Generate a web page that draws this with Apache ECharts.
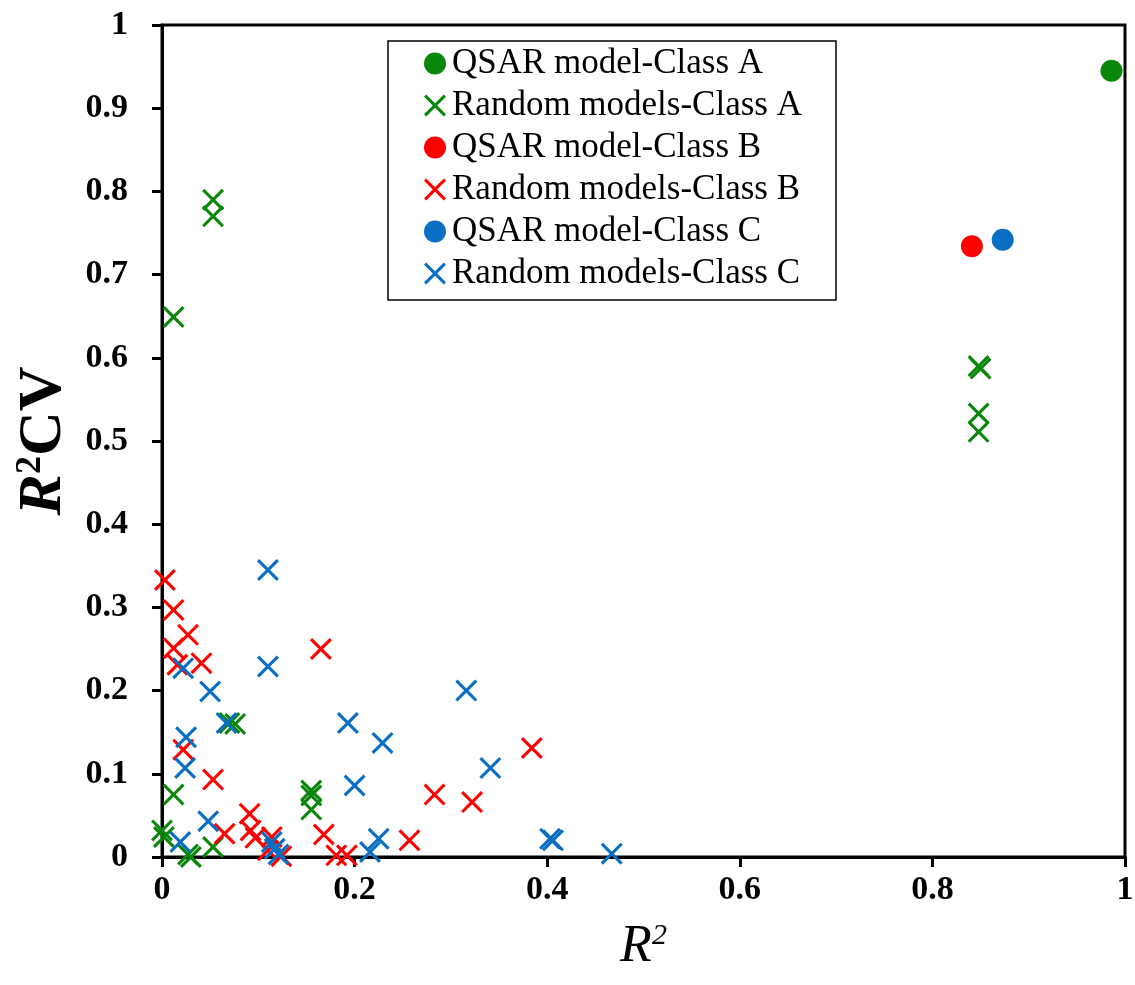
<!DOCTYPE html>
<html>
<head>
<meta charset="utf-8">
<script src="https://cdn.jsdelivr.net/npm/echarts@6/dist/echarts.min.js"></script>
<style>
  html, body { margin: 0; padding: 0; background: #fff; }
  #chart { width: 1135px; height: 985px; }
</style>
</head>
<body>
<div id="chart"></div>
<script>
// values: [R2, R2CV]
const qsarA = [[0.986, 0.945]]
const qsarB = [[0.841, 0.734]]
const qsarC = [[0.873, 0.742]]

const randomA = [
  [0.053, 0.790], [0.053, 0.770], [0.012, 0.649],
  [0.848, 0.590], [0.850, 0.587], [0.848, 0.533], [0.848, 0.511],
  [0.070, 0.161], [0.076, 0.160], [0.012, 0.075],
  [0.155, 0.080], [0.155, 0.074], [0.155, 0.057],
  [0.000, 0.032], [0.002, 0.024], [0.027, 0.003], [0.030, 0.000], [0.053, 0.012]
]

const randomB = [
  [0.003, 0.333], [0.012, 0.297], [0.027, 0.267], [0.012, 0.251], [0.016, 0.231],
  [0.041, 0.233], [0.165, 0.250], [0.022, 0.129], [0.053, 0.093], [0.384, 0.131],
  [0.283, 0.075], [0.322, 0.066], [0.257, 0.020], [0.168, 0.027], [0.181, 0.002],
  [0.192, 0.002], [0.091, 0.052], [0.065, 0.028], [0.092, 0.032], [0.097, 0.023],
  [0.114, 0.024], [0.124, 0.001], [0.110, 0.008]
]

const randomC = [
  [0.110, 0.345], [0.110, 0.229], [0.022, 0.227], [0.050, 0.199], [0.067, 0.161],
  [0.025, 0.144], [0.024, 0.107], [0.048, 0.043], [0.019, 0.018], [0.114, 0.018],
  [0.117, 0.010], [0.121, 0.003], [0.193, 0.161], [0.229, 0.137], [0.316, 0.200],
  [0.341, 0.107], [0.200, 0.086], [0.225, 0.022], [0.216, 0.006], [0.403, 0.022],
  [0.406, 0.020], [0.467, 0.004]
]

const names = [
  'QSAR model-Class A', 'Random models-Class A',
  'QSAR model-Class B', 'Random models-Class B',
  'QSAR model-Class C', 'Random models-Class C'
]

const GREEN = '#0a870a'
const RED = '#ff0000'
const BLUE = '#0a6fc2'
const SERIF = '"Liberation Serif", "Times New Roman", serif'

// filled X shape so the cross keeps its weight at any size
const CROSS = 'path://M0,10L10,0L50,40L90,0L100,10L60,50L100,90L90,100L50,60L10,100L0,90L40,50Z'

const dot = (name, data, color) => ({
  name, type: 'scatter', data,
  symbol: 'circle', symbolSize: 22,
  itemStyle: { color, opacity: 1 },
  z: 3
})

const cross = (name, data, color) => ({
  name, type: 'scatter', data,
  symbol: CROSS, symbolSize: 22,
  itemStyle: { color, opacity: 1 },
  z: 2
})

const chart = echarts.init(document.getElementById('chart'))

chart.setOption({
  animation: false,
  backgroundColor: '#fff',
  grid: {
    left: 162, right: 10, top: 25, bottom: 128,
    outerBoundsMode: 'none',
    containLabel: false,
    show: true, borderColor: '#000', borderWidth: 3
  },
  legend: {
    orient: 'vertical',
    left: 388, top: 41,
    padding: [5, 34, 9, 36],
    itemGap: 7,
    itemWidth: 24, itemHeight: 22,
    borderColor: '#000', borderWidth: 1.5,
    backgroundColor: '#fff',
    data: names,
    textStyle: { fontFamily: SERIF, fontSize: 35, color: '#000' }
  },
  xAxis: {
    type: 'value', min: 0, max: 1, interval: 0.2,
    name: '{i|R}{s|2}',
    nameLocation: 'middle', nameGap: 64,
    nameTextStyle: {
      rich: {
        i: { fontFamily: SERIF, fontStyle: 'italic', fontSize: 52, color: '#000' },
        s: { fontFamily: SERIF, fontStyle: 'italic', fontSize: 30, color: '#000', verticalAlign: 'top' }
      }
    },
    axisLine: { lineStyle: { color: '#000', width: 3 } },
    axisTick: { show: true, inside: false, length: 10, lineStyle: { color: '#000', width: 3 } },
    axisLabel: { fontFamily: SERIF, fontWeight: 'bold', fontSize: 34, color: '#000', margin: 16 },
    splitLine: { show: false }
  },
  yAxis: {
    type: 'value', min: 0, max: 1, interval: 0.1,
    name: '{i|R}{s|2}{b|CV}',
    nameLocation: 'middle', nameGap: 86, nameRotate: 90,
    nameTextStyle: {
      rich: {
        i: { fontFamily: SERIF, fontStyle: 'italic', fontWeight: 'bold', fontSize: 62, color: '#000' },
        s: { fontFamily: SERIF, fontWeight: 'bold', fontSize: 36, color: '#000', verticalAlign: 'top' },
        b: { fontFamily: SERIF, fontWeight: 'bold', fontSize: 62, color: '#000' }
      }
    },
    axisLine: { lineStyle: { color: '#000', width: 3 } },
    axisTick: { show: true, inside: false, length: 10, lineStyle: { color: '#000', width: 3 } },
    axisLabel: { fontFamily: SERIF, fontWeight: 'bold', fontSize: 34, color: '#000', margin: 34 },
    splitLine: { show: false }
  },
  series: [
    dot(names[0], qsarA, GREEN),
    cross(names[1], randomA, GREEN),
    dot(names[2], qsarB, RED),
    cross(names[3], randomB, RED),
    dot(names[4], qsarC, BLUE),
    cross(names[5], randomC, BLUE)
  ]
})
</script>
</body>
</html>
